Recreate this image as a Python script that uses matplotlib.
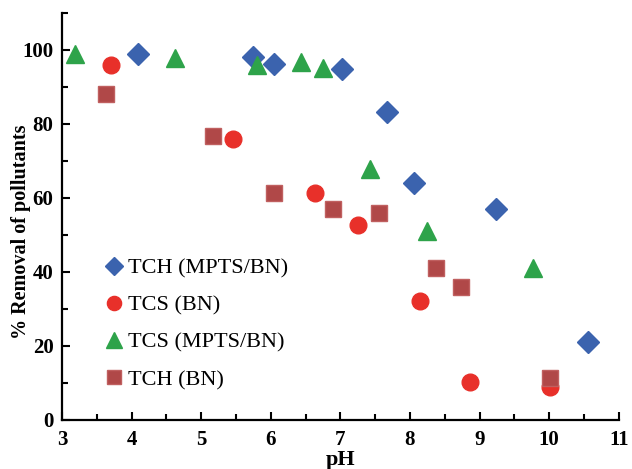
import matplotlib
matplotlib.use("Agg")
import matplotlib.pyplot as plt
from matplotlib.ticker import MultipleLocator

ph_tch_mpts = [4.10, 5.74, 6.04, 7.02, 7.67, 8.06, 9.23, 10.56]
rm_tch_mpts = [98.8, 98.2, 96.2, 94.8, 83.3, 64.1, 56.9, 21.0]

ph_tcs_bn = [3.71, 5.46, 6.63, 7.25, 8.15, 8.87, 10.01]
rm_tcs_bn = [95.8, 75.9, 61.4, 52.7, 32.2, 10.4, 9.0]

ph_tcs_mpts = [3.19, 4.62, 5.80, 6.44, 6.75, 7.42, 8.25, 9.77]
rm_tcs_mpts = [99.0, 97.8, 95.8, 96.6, 95.1, 67.9, 51.0, 41.2]

ph_tch_bn = [3.64, 5.17, 6.04, 6.89, 7.55, 8.37, 8.73, 10.01]
rm_tch_bn = [88.0, 76.8, 61.3, 57.0, 55.9, 41.0, 35.9, 11.3]

labels = ["TCH (MPTS/BN)", "TCS (BN)", "TCS (MPTS/BN)", "TCH (BN)"]

plt.rcParams['font.family'] = ['Liberation Serif', 'DejaVu Serif']

fig = plt.figure(figsize=(6.32, 4.69), dpi=100)
ax = fig.add_axes([0.098, 0.1045, 0.881, 0.868])

ax.plot(ph_tch_mpts, rm_tch_mpts, ls='none', marker='D', ms=11, color='#3b63ae', mec='#3b63ae', label=labels[0], zorder=3)
ax.plot(ph_tcs_bn, rm_tcs_bn, ls='none', marker='o', ms=12, color='#e8302a', mec='#e8302a', label=labels[1], zorder=3)
ax.plot(ph_tcs_mpts, rm_tcs_mpts, ls='none', marker='^', ms=13, color='#2ea34a', mec='#2ea34a', label=labels[2], zorder=3)
ax.plot(ph_tch_bn, rm_tch_bn, ls='none', marker='s', ms=12, color='#b04848', mec='#c06060', mew=1, label=labels[3], zorder=3)

ax.set_xlim(3, 11)
ax.set_ylim(0, 110)
ax.xaxis.set_major_locator(MultipleLocator(1))
ax.xaxis.set_minor_locator(MultipleLocator(0.5))
ax.yaxis.set_minor_locator(MultipleLocator(10))
ax.set_yticks([0, 20, 40, 60, 80, 100])

for s in ['top', 'right']:
    ax.spines[s].set_visible(False)
for s in ['left', 'bottom']:
    ax.spines[s].set_linewidth(1.6)

ax.tick_params(which='major', direction='in', length=6, width=1.5, labelsize=15)
ax.tick_params(axis='x', which='major', pad=7)
ax.tick_params(axis='y', which='major', pad=6)
ax.tick_params(which='minor', direction='in', length=4, width=1.5)
for t in ax.get_xticklabels() + ax.get_yticklabels():
    t.set_fontweight('bold')

ax.set_xlabel('pH', fontsize=16, fontweight='bold', labelpad=0)
ax.set_ylabel('% Removal of pollutants', fontsize=14.5, fontweight='bold')
ax.yaxis.set_label_coords(-0.056, 0.462)

leg = ax.legend(loc='upper left', bbox_to_anchor=(0.062, 0.42), frameon=False,
                fontsize=16, markerscale=0.85, handlelength=0.8, handletextpad=0.2,
                labelspacing=0.75, borderaxespad=0)

fig.savefig('out.png', dpi=100)
